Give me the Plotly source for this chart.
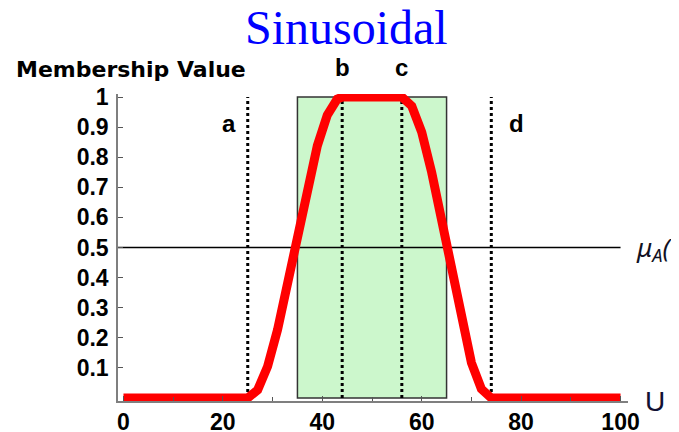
import plotly.graph_objects as go

# ---- data ----
x_curve = [0, 25, 27, 29, 31, 33, 35, 37, 39, 41, 43, 44,
           56, 58, 60, 62, 64, 66, 68, 70, 72, 74, 100]
y_curve = [0, 0, 0.027, 0.105, 0.227, 0.378, 0.541, 0.70, 0.838, 0.94, 0.993, 1,
           1, 0.97, 0.883, 0.75, 0.587, 0.413, 0.25, 0.117, 0.03, 0, 0]

param_names = ["a", "b", "c", "d"]
param_pos = [25, 44, 56, 74]
rect_x = [35, 65]
half_level = 0.5

y_ticks = [0.1, 0.2, 0.3, 0.4, 0.5, 0.6, 0.7, 0.8, 0.9, 1]
y_ticktext = ["0.1", "0.2", "0.3", "0.4", "0.5", "0.6", "0.7", "0.8", "0.9", "1"]
x_ticks = [0, 20, 40, 60, 80, 100]

fig = go.Figure()

# green rectangle
fig.add_shape(type="rect", xref="x", yref="y", x0=rect_x[0], x1=rect_x[1], y0=0, y1=1,
              fillcolor="#ccf7cc", line=dict(color="#333333", width=1.5), layer="below")

# dotted parameter lines
for p in param_pos:
    fig.add_trace(go.Scatter(x=[p, p], y=[0, 1], mode="lines",
                             line=dict(color="black", width=3, dash="dot"),
                             hoverinfo="skip", showlegend=False))

# horizontal 0.5 line
fig.add_trace(go.Scatter(x=[-1.1, 100], y=[half_level, half_level], mode="lines",
                         line=dict(color="black", width=1.5),
                         hoverinfo="skip", showlegend=False))

# membership curve
fig.add_trace(go.Scatter(x=x_curve, y=y_curve, mode="lines",
                         line=dict(color="#ff0000", width=9),
                         showlegend=False))

lab_font = dict(family="Liberation Sans, Arial", size=24, color="black")
# (x in data, y in paper, label)
label_pos = {"a": (21.3, 0.903), "b": (44.1, 1.085), "c": (55.9, 1.085), "d": (79.1, 0.903)}
for n in param_names:
    lx, ly = label_pos[n]
    fig.add_annotation(x=lx, y=ly, xref="x", yref="paper", text="<b>%s</b>" % n,
                       showarrow=False, font=lab_font, xanchor="center", yanchor="middle")

# title
fig.add_annotation(x=0.449, y=1.215, xref="paper", yref="paper", text="Sinusoidal",
                   showarrow=False, font=dict(family="Liberation Serif", size=48, color="#0000ff"),
                   xanchor="center", yanchor="middle")
# y label
fig.add_annotation(x=-0.203, y=1.081, xref="paper", yref="paper", text="<b>Membership Value</b>",
                   showarrow=False, font=dict(family="DejaVu Sans", size=22, color="black"),
                   xanchor="left", yanchor="middle")
# U label
fig.add_annotation(x=1.053, y=0.0, xref="paper", yref="paper", text="U",
                   showarrow=False, font=dict(family="Liberation Sans, Arial", size=28, color="#111133"),
                   xanchor="center", yanchor="middle")
# mu_A( label
fig.add_annotation(x=1.012, y=0.5, xref="paper", yref="paper", text="<i>μ<sub>A</sub>(</i>",
                   showarrow=False, font=dict(family="Noto Sans", size=26, color="#111122"),
                   xanchor="left", yanchor="middle")

tick_font = dict(family="Liberation Sans, Arial", size=23, color="black")
fig.update_xaxes(range=[-1.1, 101.5], showgrid=False, zeroline=False, automargin=False,
                 showline=True, linecolor="#7f7f7f", linewidth=1.5,
                 tickmode="array", tickvals=x_ticks, ticktext=["<b>%d</b>" % v for v in x_ticks],
                 ticks="inside", ticklen=5, tickcolor="#555555", tickfont=tick_font,
                 minor=dict(dtick=10, tick0=0, ticks="inside", ticklen=4, tickcolor="#555555"),
                 ticklabelstandoff=0)
fig.update_yaxes(range=[-0.01, 1.01], showgrid=False, zeroline=False, automargin=False,
                 showline=True, linecolor="#7f7f7f", linewidth=1.5,
                 tickmode="array", tickvals=y_ticks, ticktext=["<b>%s</b>" % t for t in y_ticktext],
                 ticks="inside", ticklen=5, tickcolor="#555555", tickfont=tick_font,
                 ticklabelstandoff=3)

# page body adds an 8px margin at top/left, so the figure is 8px smaller than the window
fig.update_layout(width=671, height=424, margin=dict(l=110, r=51, t=86, b=31),
                  paper_bgcolor="white", plot_bgcolor="white", showlegend=False)

fig.write_html("out.html")
